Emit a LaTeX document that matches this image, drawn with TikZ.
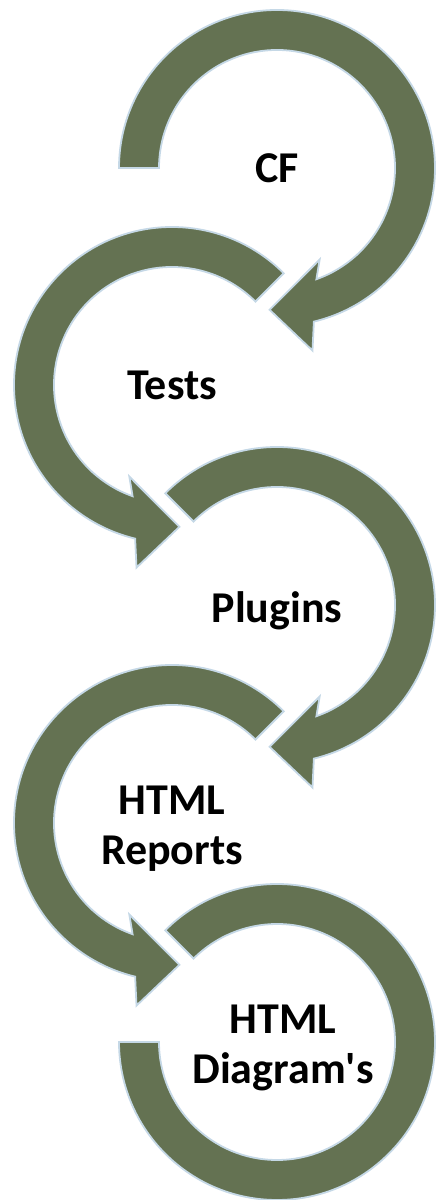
\documentclass[tikz,border=0pt]{standalone}
\usepackage{fontspec}
\setmainfont{Carlito}
\definecolor{arrowgreen}{RGB}{100,114,82}
\definecolor{edgeblue}{RGB}{197,216,230}
\tikzset{
  arrowband/.style={fill=arrowgreen,draw=edgeblue,line width=0.9pt,line join=miter},
  steplabel/.style={font=\bfseries\fontsize{22}{25}\selectfont,align=center,inner sep=0pt}
}
\begin{document}
\begin{tikzpicture}[x=0.5pt,y=0.5pt]
\useasboundingbox (0,0) rectangle (436,1200);
\coordinate (c1) at (277,1032);
\coordinate (c2) at (172,815);
\coordinate (c3) at (277,595);
\coordinate (c4) at (172,377);
\coordinate (c5) at (277,158);
% CF, clockwise
\begin{scope}[shift={(c1)}]
\draw[arrowband] (180:158) arc[start angle=180,end angle=-76.5,radius=158] -- (-79:186) -- (-93:142) -- (-65:101) -- (-70.5:118) arc[start angle=-70.5,end angle=180,radius=118] -- cycle;
\end{scope}
% Tests, counter clockwise
\begin{scope}[shift={(c2)}]
\draw[arrowband] (45:158) arc[start angle=45,end angle=256.5,radius=158] -- (259:186) -- (273:142) -- (245:101) -- (250.5:118) arc[start angle=250.5,end angle=45,radius=118] -- cycle;
\end{scope}
% Plugins
\begin{scope}[shift={(c3)}]
\draw[arrowband] (135:158) arc[start angle=135,end angle=-76.5,radius=158] -- (-79:186) -- (-93:142) -- (-65:101) -- (-70.5:118) arc[start angle=-70.5,end angle=135,radius=118] -- cycle;
\end{scope}
% HTML Reports
\begin{scope}[shift={(c4)}]
\draw[arrowband] (45:158) arc[start angle=45,end angle=256.5,radius=158] -- (259:186) -- (273:142) -- (245:101) -- (250.5:118) arc[start angle=250.5,end angle=45,radius=118] -- cycle;
\end{scope}
% HTML Diagram's, no head
\begin{scope}[shift={(c5)}]
\draw[arrowband] (135:158) arc[start angle=135,end angle=-180,radius=158] -- (-180:118) arc[start angle=-180,end angle=135,radius=118] -- cycle;
\end{scope}
\node[steplabel] (cf) at (c1) {CF};
\node[steplabel] (tests) at (c2) {Tests};
\node[steplabel] (plugins) at ([yshift=-3]c3) {Plugins};
\node[steplabel] (reports) at ([yshift=-3]c4) {HTML\\Reports};
\node[steplabel] (diagrams) at ([xshift=3,yshift=-3]c5) {HTML\\Diagram\textquotesingle s};
\end{tikzpicture}
\end{document}
